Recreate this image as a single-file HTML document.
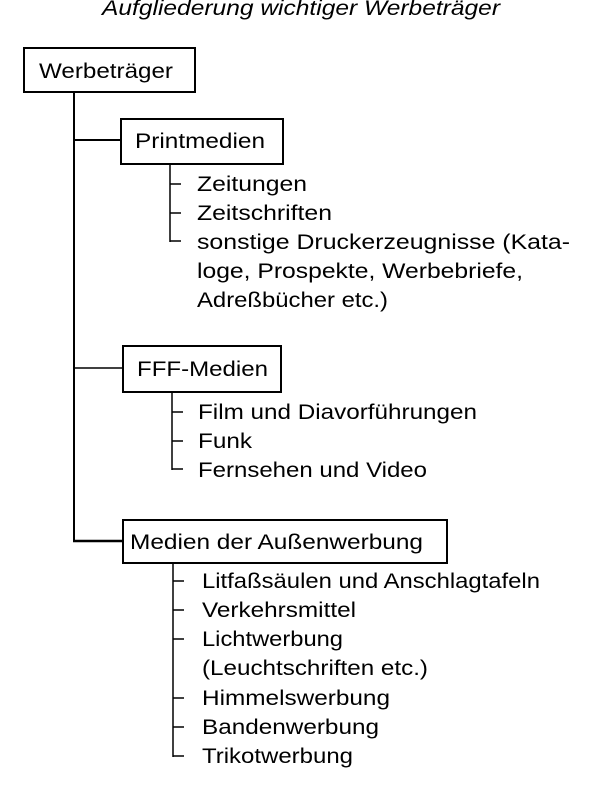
<!DOCTYPE html>
<html><head><meta charset="utf-8"><style>
html,body{margin:0;padding:0;background:#fff;}
svg{display:block;}
text{font-family:"Liberation Sans",sans-serif;font-size:21px;fill:#000;}
</style></head><body>
<svg width="600" height="806" viewBox="0 0 600 806" xmlns="http://www.w3.org/2000/svg">
<text x="102" y="15" font-style="italic" font-size="23" textLength="398" lengthAdjust="spacingAndGlyphs">Aufgliederung wichtiger Werbeträger</text>
<g fill="none" stroke="#000">
<rect x="24" y="48" width="171" height="44" stroke-width="2"/>
<rect x="121" y="119" width="162" height="45" stroke-width="2"/>
<rect x="123" y="346" width="158" height="46" stroke-width="2"/>
<rect x="123" y="520" width="324" height="43" stroke-width="2"/>
<line x1="74" y1="92" x2="74" y2="541" stroke-width="2"/>
<line x1="74" y1="140" x2="121" y2="140" stroke-width="2"/>
<line x1="74" y1="368" x2="123" y2="368" stroke-width="1.5"/>
<line x1="73" y1="541" x2="123" y2="541" stroke-width="2.5"/>
<line x1="170" y1="164" x2="170" y2="242" stroke-width="1.5"/>
<line x1="170" y1="184" x2="181" y2="184" stroke-width="1.5"/>
<line x1="170" y1="213" x2="181" y2="213" stroke-width="1.5"/>
<line x1="170" y1="241" x2="181" y2="241" stroke-width="1.5"/>
<line x1="172" y1="392" x2="172" y2="470" stroke-width="1.5"/>
<line x1="172" y1="412" x2="183" y2="412" stroke-width="1.5"/>
<line x1="172" y1="441" x2="183" y2="441" stroke-width="1.5"/>
<line x1="172" y1="469" x2="183" y2="469" stroke-width="1.5"/>
<line x1="173" y1="563" x2="173" y2="757" stroke-width="1.5"/>
<line x1="173" y1="581" x2="184" y2="581" stroke-width="1.5"/>
<line x1="173" y1="610" x2="184" y2="610" stroke-width="1.5"/>
<line x1="173" y1="639" x2="184" y2="639" stroke-width="1.5"/>
<line x1="173" y1="698" x2="184" y2="698" stroke-width="1.5"/>
<line x1="173" y1="727" x2="184" y2="727" stroke-width="1.5"/>
<line x1="173" y1="756" x2="184" y2="756" stroke-width="1.5"/>
</g>
<text x="39" y="78" textLength="134" lengthAdjust="spacingAndGlyphs">Werbeträger</text>
<text x="135" y="148" textLength="130" lengthAdjust="spacingAndGlyphs">Printmedien</text>
<text x="137" y="376" textLength="131" lengthAdjust="spacingAndGlyphs">FFF-Medien</text>
<text x="130" y="549" textLength="293" lengthAdjust="spacingAndGlyphs">Medien der Außenwerbung</text>
<text x="197" y="191" textLength="110" lengthAdjust="spacingAndGlyphs">Zeitungen</text>
<text x="197" y="220" textLength="135" lengthAdjust="spacingAndGlyphs">Zeitschriften</text>
<text x="197" y="249" textLength="373" lengthAdjust="spacingAndGlyphs">sonstige Druckerzeugnisse (Kata-</text>
<text x="197" y="278" textLength="326" lengthAdjust="spacingAndGlyphs">loge, Prospekte, Werbebriefe,</text>
<text x="197" y="307" textLength="191" lengthAdjust="spacingAndGlyphs">Adreßbücher etc.)</text>
<text x="198" y="419" textLength="279" lengthAdjust="spacingAndGlyphs">Film und Diavorführungen</text>
<text x="198" y="448" textLength="54" lengthAdjust="spacingAndGlyphs">Funk</text>
<text x="198" y="477" textLength="229" lengthAdjust="spacingAndGlyphs">Fernsehen und Video</text>
<text x="202" y="588" textLength="338" lengthAdjust="spacingAndGlyphs">Litfaßsäulen und Anschlagtafeln</text>
<text x="202" y="617" textLength="154" lengthAdjust="spacingAndGlyphs">Verkehrsmittel</text>
<text x="202" y="646" textLength="141" lengthAdjust="spacingAndGlyphs">Lichtwerbung</text>
<text x="202" y="675" textLength="226" lengthAdjust="spacingAndGlyphs">(Leuchtschriften etc.)</text>
<text x="202" y="705" textLength="188" lengthAdjust="spacingAndGlyphs">Himmelswerbung</text>
<text x="202" y="734" textLength="177" lengthAdjust="spacingAndGlyphs">Bandenwerbung</text>
<text x="202" y="763" textLength="151" lengthAdjust="spacingAndGlyphs">Trikotwerbung</text>
</svg>
</body></html>
